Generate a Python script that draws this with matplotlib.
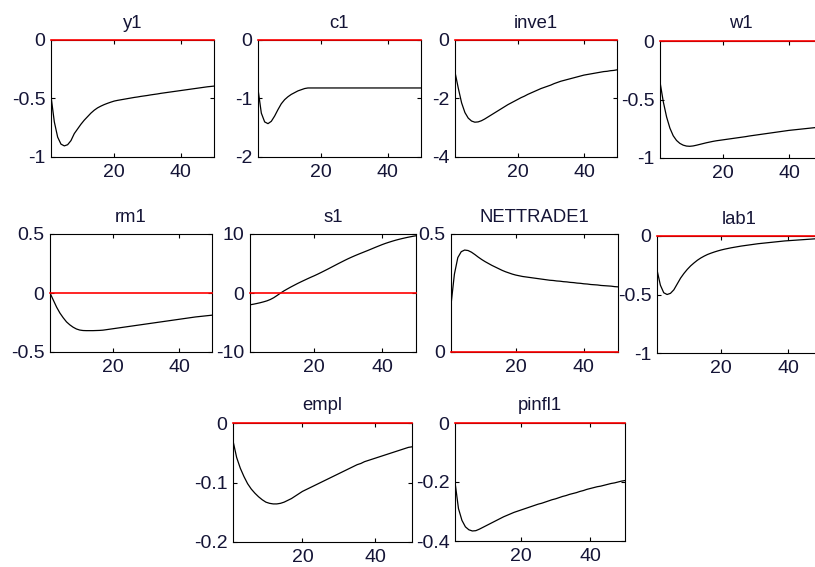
import matplotlib
matplotlib.use("Agg")
import matplotlib.pyplot as plt

plt.rcParams['font.family'] = ['Liberation Sans', 'DejaVu Sans']
plt.rcParams['axes.unicode_minus'] = False

# ------------------------------
# Data
# ------------------------------
periods = list(range(1, 51))

titles = ['y1', 'c1', 'inve1', 'w1', 'rm1', 's1', 'NETTRADE1', 'lab1', 'empl', 'pinfl1']

y1 = [-0.48, -0.70, -0.83, -0.89, -0.905, -0.895, -0.86, -0.80, -0.76, -0.72,
      -0.685, -0.655, -0.625, -0.60, -0.58, -0.565, -0.552, -0.541, -0.531, -0.522,
      -0.516, -0.511, -0.506, -0.501, -0.496, -0.491, -0.487, -0.482, -0.478, -0.474,
      -0.469, -0.465, -0.461, -0.456, -0.452, -0.448, -0.444, -0.440, -0.436, -0.432,
      -0.428, -0.424, -0.420, -0.416, -0.412, -0.408, -0.404, -0.400, -0.397, -0.394]

c1 = [-0.84, -1.25, -1.40, -1.43, -1.39, -1.30, -1.19, -1.09, -1.02, -0.97,
      -0.93, -0.90, -0.87, -0.85, -0.83, -0.82, -0.82, -0.82, -0.82, -0.82,
      -0.82, -0.82, -0.82, -0.82, -0.82, -0.82, -0.82, -0.82, -0.82, -0.82,
      -0.82, -0.82, -0.82, -0.82, -0.82, -0.82, -0.82, -0.82, -0.82, -0.82,
      -0.82, -0.82, -0.82, -0.82, -0.82, -0.82, -0.82, -0.82, -0.82, -0.82]

inve1 = [-1.10, -1.65, -2.15, -2.48, -2.67, -2.77, -2.81, -2.80, -2.76, -2.70,
         -2.63, -2.56, -2.49, -2.42, -2.35, -2.28, -2.21, -2.15, -2.09, -2.03,
         -1.97, -1.92, -1.86, -1.81, -1.76, -1.71, -1.66, -1.62, -1.58, -1.54,
         -1.49, -1.45, -1.41, -1.38, -1.35, -1.32, -1.29, -1.26, -1.23, -1.20,
         -1.18, -1.16, -1.14, -1.12, -1.10, -1.08, -1.07, -1.05, -1.04, -1.02]

w1 = [-0.35, -0.52, -0.65, -0.745, -0.81, -0.85, -0.875, -0.89, -0.898, -0.90,
      -0.897, -0.891, -0.884, -0.877, -0.870, -0.864, -0.858, -0.853, -0.849, -0.845,
      -0.841, -0.837, -0.833, -0.829, -0.825, -0.821, -0.817, -0.812, -0.808, -0.804,
      -0.800, -0.796, -0.792, -0.788, -0.784, -0.780, -0.776, -0.772, -0.768, -0.764,
      -0.761, -0.758, -0.755, -0.752, -0.749, -0.746, -0.743, -0.740, -0.737, -0.734]

rm1 = [0.0, -0.06, -0.12, -0.17, -0.21, -0.245, -0.27, -0.29, -0.305, -0.314,
       -0.318, -0.319, -0.319, -0.319, -0.318, -0.317, -0.315, -0.311, -0.307, -0.303,
       -0.299, -0.295, -0.291, -0.287, -0.283, -0.279, -0.275, -0.271, -0.267, -0.263,
       -0.259, -0.255, -0.251, -0.247, -0.243, -0.239, -0.235, -0.231, -0.227, -0.223,
       -0.219, -0.215, -0.211, -0.207, -0.203, -0.200, -0.197, -0.194, -0.191, -0.188]

s1 = [-2.0, -1.9, -1.78, -1.65, -1.5, -1.33, -1.1, -0.8, -0.42, -0.02,
      0.35, 0.68, 1.0, 1.3, 1.6, 1.88, 2.15, 2.42, 2.68, 2.93,
      3.2, 3.48, 3.77, 4.06, 4.36, 4.66, 4.96, 5.25, 5.54, 5.82,
      6.08, 6.33, 6.57, 6.8, 7.03, 7.26, 7.5, 7.74, 7.97, 8.2,
      8.41, 8.6, 8.78, 8.95, 9.1, 9.24, 9.37, 9.49, 9.6, 9.7]

nettrade1 = [0.2, 0.33, 0.4, 0.425, 0.432, 0.43, 0.423, 0.413, 0.402, 0.392,
             0.383, 0.375, 0.367, 0.36, 0.353, 0.346, 0.34, 0.335, 0.33, 0.326,
             0.323, 0.32, 0.318, 0.316, 0.314, 0.312, 0.31, 0.308, 0.306, 0.304,
             0.303, 0.301, 0.3, 0.298, 0.297, 0.295, 0.294, 0.292, 0.291, 0.289,
             0.288, 0.286, 0.285, 0.284, 0.282, 0.281, 0.28, 0.279, 0.277, 0.276]

lab1 = [-0.29, -0.42, -0.485, -0.5, -0.49, -0.46, -0.41, -0.36, -0.32, -0.285,
        -0.255, -0.23, -0.207, -0.188, -0.172, -0.158, -0.147, -0.137, -0.128, -0.12,
        -0.113, -0.107, -0.101, -0.096, -0.091, -0.086, -0.082, -0.078, -0.074, -0.07,
        -0.066, -0.063, -0.06, -0.057, -0.054, -0.051, -0.048, -0.045, -0.042, -0.04,
        -0.038, -0.036, -0.034, -0.032, -0.03, -0.028, -0.026, -0.024, -0.022, -0.02]

empl = [-0.03, -0.058, -0.076, -0.09, -0.102, -0.111, -0.118, -0.124, -0.129, -0.133,
        -0.135, -0.136, -0.136, -0.135, -0.133, -0.130, -0.127, -0.123, -0.119, -0.115,
        -0.112, -0.109, -0.106, -0.103, -0.1, -0.097, -0.094, -0.091, -0.088, -0.085,
        -0.082, -0.079, -0.076, -0.073, -0.07, -0.068, -0.065, -0.063, -0.061, -0.059,
        -0.057, -0.055, -0.053, -0.051, -0.049, -0.047, -0.045, -0.043, -0.041, -0.04]

pinfl1 = [-0.2, -0.29, -0.33, -0.352, -0.362, -0.366, -0.365, -0.36, -0.354, -0.348,
          -0.342, -0.336, -0.33, -0.324, -0.318, -0.313, -0.308, -0.303, -0.299, -0.295,
          -0.291, -0.287, -0.283, -0.279, -0.275, -0.272, -0.268, -0.264, -0.26, -0.257,
          -0.253, -0.249, -0.246, -0.242, -0.239, -0.236, -0.232, -0.229, -0.225, -0.222,
          -0.219, -0.216, -0.214, -0.211, -0.208, -0.205, -0.203, -0.2, -0.197, -0.195]

series = [y1, c1, inve1, w1, rm1, s1, nettrade1, lab1, empl, pinfl1]

yticks = [[-1, -0.5, 0], [-2, -1, 0], [-4, -2, 0], [-1, -0.5, 0], [-0.5, 0, 0.5],
          [-10, 0, 10], [0, 0.5], [-1, -0.5, 0], [-0.2, -0.1, 0], [-0.4, -0.2, 0]]
xticks = [20, 40]

# axes boxes in pixels: left, top, right, bottom
boxes = [(51, 40, 214, 157), (258, 40, 421, 157), (455, 40, 617, 157), (660, 41, 822, 158),
         (50, 234, 212, 352), (250, 234, 416, 352), (451, 234, 618, 352), (657, 236, 822, 353),
         (233, 423, 412, 542), (455, 423, 625, 541)]

W, H = 815, 567
fig = plt.figure(figsize=(W / 100, H / 100), dpi=100)
txt = '#141436'

for name, vals, yt, (l, t, r, b) in zip(titles, series, yticks, boxes):
    ax = fig.add_axes([l / W, 1 - b / H, (r - l) / W, (b - t) / H])
    ax.plot(periods, vals, color='black', linewidth=0.9)
    ax.axhline(0, color='red', linewidth=1.2, zorder=5, clip_on=False)
    ax.set_xlim(1, 50)
    ax.set_ylim(yt[0], yt[-1])
    ax.set_xticks(xticks)
    ax.set_yticks(yt)
    ax.set_yticklabels(['%g' % v for v in yt])
    ax.tick_params(direction='in', length=3, width=0.8, top=True, right=True,
                   labelsize=14, labelcolor=txt)
    ax.tick_params(axis='x', pad=5)
    ax.tick_params(axis='y', pad=4)
    for sp in ax.spines.values():
        sp.set_linewidth(0.8)
    ax.set_title(name, fontsize=13.3, color=txt, pad=9)

fig.savefig('out.png', dpi=100)
